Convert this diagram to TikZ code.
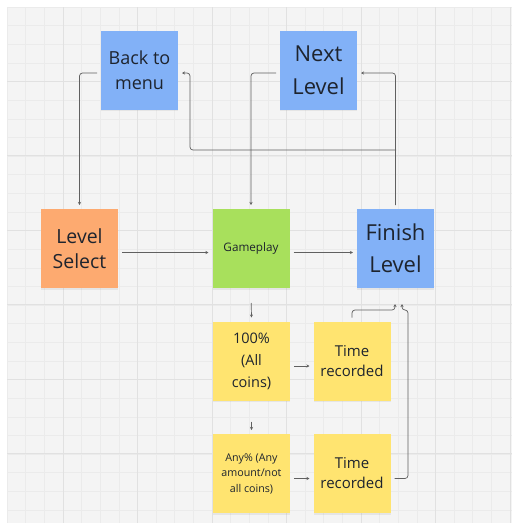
\documentclass[tikz,border=0pt]{standalone}
\usepackage{fontspec}
\setmainfont{Open Sans}
\usetikzlibrary{arrows.meta,shadows}
\definecolor{bgc}{RGB}{244,244,244}
\definecolor{gminor}{RGB}{235,235,235}
\definecolor{gmajor}{RGB}{225,225,225}
\definecolor{blueS}{RGB}{130,177,247}
\definecolor{orangeS}{RGB}{253,170,112}
\definecolor{greenS}{RGB}{168,224,92}
\definecolor{yellowS}{RGB}{255,228,112}
\definecolor{txt}{RGB}{30,36,46}
\definecolor{lnc}{RGB}{96,96,96}
\tikzset{
  sticky/.style={minimum width=77pt, minimum height=79pt, inner sep=2pt, align=center,
    text=txt, outer sep=4pt, drop shadow={shadow xshift=0pt, shadow yshift=-1.5pt, opacity=0.12}},
  conn/.style={draw=lnc, line width=0.7pt, rounded corners=3pt, -{Stealth[length=3pt,width=3pt]}},
}
\begin{document}
\begin{tikzpicture}[x=1pt,y=-1pt]
\useasboundingbox (0,0) rectangle (514,523);
\fill[white] (0,0) rectangle (514,523);
\fill[bgc] (7,7) rectangle (512,523);
% minor grid
\foreach \i in {0,...,27} {
  \draw[gminor, line width=0.5pt] ({7+18.625*\i},7) -- ({7+18.625*\i},523);
  \draw[gminor, line width=0.5pt] (7,{7+18.625*\i}) -- (512,{7+18.625*\i});
}
% major grid
\foreach \i in {0,...,6} {
  \draw[gmajor, line width=0.7pt] ({63+74.5*\i},7) -- ({63+74.5*\i},523);
}
\foreach \i in {1,...,6} {
  \draw[gmajor, line width=0.7pt] (7,{6.5+74.5*\i}) -- (512,{6.5+74.5*\i});
}
% nodes
\node[sticky, fill=blueS, font=\fontsize{18}{25}\selectfont] (back) at (139.5,70) {Back to\\menu};
\node[sticky, fill=blueS, font=\fontsize{22}{33}\selectfont] (next) at (318.5,70) {Next\\Level};
\node[sticky, fill=orangeS, font=\fontsize{19.5}{25}\selectfont] (lsel) at (79.5,248.5) {Level\\Select};
\node[sticky, fill=greenS, font=\fontsize{11.7}{15}\selectfont] (game) at (251,248.5) {Gameplay};
\node[sticky, fill=blueS, font=\fontsize{22}{32}\selectfont] (finish) at (395.5,248.5) {Finish\\Level};
\node[sticky, fill=yellowS, font=\fontsize{14.5}{22}\selectfont] (p100) at (251.5,361) {100\%\\(All\\coins)};
\node[sticky, fill=yellowS, font=\fontsize{15}{20}\selectfont] (t1) at (352,361) {Time\\recorded};
\node[sticky, fill=yellowS, font=\fontsize{10.7}{15.5}\selectfont] (any) at (251.5,473.5) {Any\% (Any\\amount/not\\all coins)};
\node[sticky, fill=yellowS, font=\fontsize{15}{20}\selectfont] (t2) at (352,473.5) {Time\\recorded};
% helper coordinates
\coordinate (j) at (396,150);
\coordinate (bt) at (190,73);
\coordinate (fa) at (395,304);
\coordinate (fa1) at (395,310);
\coordinate (fb) at (402,304);
\coordinate (fb1) at (402,310);
\coordinate (fb2) at (408,310);
% connectors
\draw[conn] ([yshift=-3pt]back.west) -| (lsel.north);
\draw[conn] ([yshift=-3pt]next.west) -| (game.north);
\draw[conn] (finish.north) |- ([yshift=-3pt]next.east);
\draw[conn] (j) -| (bt) -- (back.east |- bt);
\draw[conn] ([yshift=-4pt]lsel.east) -- ([yshift=-4pt]game.west);
\draw[conn] ([yshift=-4pt]game.east) -- ([yshift=-4pt]finish.west);
\draw[conn, shorten <=11pt] (game.south) -- (p100.north);
\draw[conn, shorten <=17pt] (p100.south) -- (any.north);
\draw[conn] ([yshift=-5pt]p100.east) -- ([yshift=-5pt]t1.west);
\draw[conn] ([yshift=-5pt]any.east) -- ([yshift=-5pt]t2.west);
\draw[conn] (t1.north) |- (fa1) -- (fa);
\draw[conn] ([yshift=-5pt]t2.east) -| (fb2) -- (fb1) -- (fb);
\end{tikzpicture}
\end{document}
